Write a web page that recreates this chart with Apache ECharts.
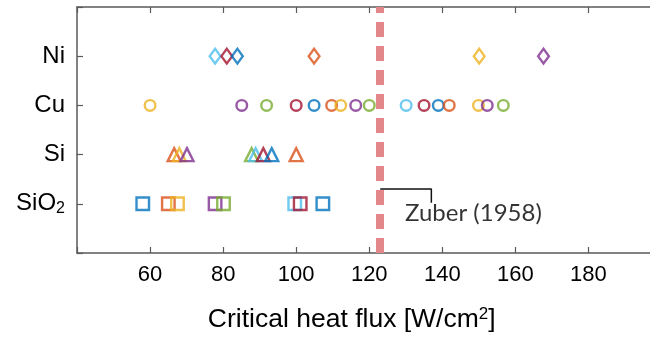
<!DOCTYPE html>
<html>
<head>
<meta charset="utf-8">
<script src="https://cdn.jsdelivr.net/npm/echarts@6/dist/echarts.min.js"></script>
<style>
  html, body { margin: 0; padding: 0; background: #fff; }
  #chart { width: 650px; height: 339px; }
</style>
</head>
<body>
<div id="chart"></div>
<script>
// Critical heat flux measurements per surface material, coloured by source study.
const rowLabels = ['', 'SiO2', 'Si', 'Cu', 'Ni'];
const xTicks = [60, 80, 100, 120, 140, 160, 180];

const niFlux = [77.8, 81.0, 83.9, 104.9, 150.1, 167.7];
const niSource = ['lightBlue', 'crimson', 'blue', 'orange', 'yellow', 'purple'];

const cuFlux = [60.0, 85.1, 91.9, 100.0, 104.9, 109.7, 112.2, 116.3, 120.0,
                130.1, 135.0, 138.9, 141.9, 149.9, 152.3, 156.7];
const cuSource = ['yellow', 'purple', 'green', 'crimson', 'blue', 'orange', 'yellow', 'purple', 'green',
                  'lightBlue', 'crimson', 'blue', 'orange', 'yellow', 'purple', 'green'];

const siFlux = [66.6, 68.0, 70.1, 87.8, 88.9, 91.0, 93.3, 100.0];
const siSource = ['orange', 'yellow', 'purple', 'green', 'lightBlue', 'crimson', 'blue', 'orange'];

const sio2Flux = [58.0, 65.0, 67.5, 77.8, 80.1, 99.6, 101.1, 107.3];
const sio2Source = ['blue', 'orange', 'yellow', 'purple', 'green', 'lightBlue', 'crimson', 'blue'];

// Zuber (1958) hydrodynamic CHF prediction
const zuberFlux = 123;
const zuberLabel = 'Zuber (1958)';

const palette = {
  blue: '#0072BD',
  orange: '#D95319',
  yellow: '#EDB120',
  purple: '#7E2F8E',
  green: '#77AC30',
  lightBlue: '#4DBEEE',
  crimson: '#A2142F'
};

function rowSeries(flux, source, row, symbol, size) {
  return {
    type: 'scatter',
    symbol: symbol,
    symbolSize: size,
    silent: true,
    itemStyle: { color: 'rgba(0,0,0,0)', borderWidth: 2.4 },
    data: flux.map((v, i) => ({
      value: [v, row],
      itemStyle: { borderColor: palette[source[i]] }
    }))
  };
}

const axisGray = '#5a5a5a';
const tickStyle = { show: true, inside: true, length: 6, lineStyle: { color: axisGray, width: 1.2 } };
const chart = echarts.init(document.getElementById('chart'), null, { renderer: 'canvas' });

chart.setOption({
  animation: false,
  // the plot box runs past the right edge of the canvas
  grid: { left: 77, width: 584.5, top: 7, bottom: 86, containLabel: false, outerBoundsMode: 'none' },
  xAxis: [{
    type: 'value',
    min: 40,
    max: 200,
    interval: 20,
    position: 'bottom',
    splitLine: { show: false },
    axisLine: { show: true, lineStyle: { color: axisGray, width: 1.5 } },
    axisTick: tickStyle,
    axisLabel: {
      margin: 11,
      fontFamily: 'Liberation Sans',
      fontSize: 22,
      color: '#000',
      formatter: v => (xTicks.indexOf(v) >= 0 ? String(v) : '')
    },
    name: '{m|Critical heat flux [W/cm}{p|2}{m|]}',
    nameLocation: 'middle',
    nameGap: 53,
    nameTextStyle: {
      padding: [0, 35, 0, 0],
      rich: {
        m: { fontFamily: 'Liberation Sans', fontSize: 26.5, color: '#000', lineHeight: 28 },
        p: { fontFamily: 'Liberation Sans', fontSize: 17, color: '#000', lineHeight: 14, verticalAlign: 'top' }
      }
    }
  }, {
    type: 'value',
    min: 40,
    max: 200,
    interval: 20,
    position: 'top',
    splitLine: { show: false },
    axisLine: { show: true, lineStyle: { color: axisGray, width: 1.5 } },
    axisTick: tickStyle,
    axisLabel: { show: false }
  }],
  yAxis: {
    type: 'value',
    min: 0,
    max: 5,
    interval: 1,
    splitLine: { show: false },
    axisLine: { show: true, lineStyle: { color: axisGray, width: 1.5 } },
    axisTick: tickStyle,
    axisLabel: {
      margin: 12,
      formatter: v => {
        const t = rowLabels[v] || '';
        if (t === 'SiO2') return '{m|SiO}{s|2}';
        return '{m|' + t + '}';
      },
      rich: {
        m: { fontFamily: 'Liberation Sans', fontSize: 24, color: '#000', lineHeight: 26 },
        s: { fontFamily: 'Liberation Sans', fontSize: 16, color: '#000', lineHeight: 10, verticalAlign: 'bottom' }
      }
    }
  },
  series: [
    rowSeries(sio2Flux, sio2Source, 1, 'rect', 12.5),
    rowSeries(siFlux, siSource, 2, 'triangle', 13),
    rowSeries(cuFlux, cuSource, 3, 'circle', 10.6),
    rowSeries(niFlux, niSource, 4, 'diamond', [10.8, 14.8]),
    {
      // leader from the prediction line to its caption
      type: 'line',
      silent: true,
      symbol: 'none',
      lineStyle: { color: '#111', width: 1.5 },
      data: [[zuberFlux, 1.3], [137, 1.3], [137, 1.02]],
      markLine: {
        silent: true,
        symbol: 'none',
        label: { show: false },
        lineStyle: { color: '#E3878A', width: 8, type: [15, 9], cap: 'butt' },
        data: [{ xAxis: zuberFlux }]
      }
    },
    {
      type: 'scatter',
      silent: true,
      symbolSize: 0,
      data: [[129.8, 0.81]],
      label: {
        show: true,
        position: 'right',
        distance: 0,
        formatter: zuberLabel,
        fontFamily: 'Lato',
        fontSize: 24,
        color: '#000'
      }
    }
  ]
});
</script>
</body>
</html>
